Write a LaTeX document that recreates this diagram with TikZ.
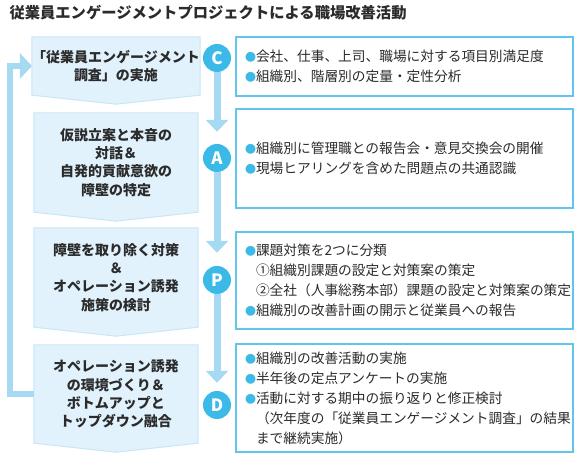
\documentclass[tikz,border=0pt]{standalone}
\usepackage{fontspec}
\setmainfont{Noto Sans CJK JP}
\usetikzlibrary{arrows.meta,backgrounds}

\definecolor{stagefill}{HTML}{E1F2FC}
\definecolor{stageline}{HTML}{C8E6F6}
\definecolor{flowblue}{HTML}{A6DAF3}
\definecolor{markblue}{HTML}{3BB9E7}
\definecolor{noteline}{HTML}{62C6EC}
\definecolor{inkgray}{HTML}{2B2B2B}

\newcommand\bul{{\fontsize{11}{11}\selectfont\color{markblue}●}}
\newcommand\ind{\phantom{\bul}}

\tikzset{
  stage/.style={minimum width=164pt,align=center,inner sep=0pt,
    font=\fontsize{14}{18.3}\selectfont\bfseries,text=inkgray},
  note/.style={draw=noteline,line width=1.2pt,fill=white,text width=319pt,
    inner xsep=9pt,inner ysep=0pt,align=left,
    font=\fontsize{13.7}{20}\selectfont,text=inkgray},
  phase/.style={circle,fill=markblue,minimum size=28pt,inner sep=0pt,
    text=white,font=\fontsize{17}{17}\selectfont\bfseries},
  flow/.style={draw=flowblue,line width=7pt,-{Triangle[width=22pt,length=12pt]}},
  backflow/.style={draw=flowblue,line width=6.5pt,-{Triangle[width=25pt,length=12pt]}},
}

\begin{document}
\begin{tikzpicture}[x=1pt,y=-1pt]
\useasboundingbox (0,0) rectangle (579,457);

\node[anchor=west,font=\fontsize{15.3}{15.3}\selectfont\bfseries,text=inkgray] (title) at (6,13)
  {従業員エンゲージメントプロジェクトによる職場改善活動};

% left column
\node[stage,minimum height=58pt](s1) at (116,66)
  {「従業員エンゲージメント\\調査」の実施};
\node[stage,minimum height=99pt](s2) at (116,162.5)
  {仮説立案と本音の\\対話＆\\自発的貢献意欲の\\障壁の特定};
\node[stage,minimum height=99pt](s3) at (116,277.5)
  {障壁を取り除く対策\\＆\\オペレーション誘発\\施策の検討};
\node[stage,minimum height=98pt](s4) at (116,394)
  {オペレーション誘発\\の環境づくり＆\\ボトムアップと\\トップダウン融合};

\begin{scope}[on background layer]
\foreach \s in {s1,s2,s3,s4}
  \filldraw[fill=stagefill,draw=stageline,line width=1pt]
    (\s.north west) -- (\s.north east) -- (\s.south east)
    -- ([yshift=-9pt]\s.south) -- (\s.south west) -- cycle;
\end{scope}

% PDCA marks
\node[phase](c) at (217,58) {C};
\node[phase](a) at (217,158) {A};
\node[phase](p) at (217,280) {P};
\node[phase](d) at (217,405) {D};

\path[flow,shorten >=12pt] (c) -- (a);
\path[flow,shorten >=13pt] (a) -- (p);
\path[flow,shorten >=8pt] (p) -- (d);

% right column
\node[note,minimum height=59pt](n1) at (404.5,66.5)
  {\bul 会社、仕事、上司、職場に対する項目別満足度\\
   \bul 組織別、階層別の定量・定性分析};
\node[note,minimum height=99pt](n2) at (404.5,158.5)
  {\bul 組織別に管理職との報告会・意見交換会の開催\\
   \bul 現場ヒアリングを含めた問題点の共通認識};
\node[note,minimum height=97pt](n3) at (404.5,280.5)
  {\bul 課題対策を2つに分類\\
   \ind ①組織別課題の設定と対策案の策定\\
   \ind ②全社（人事総務本部）課題の設定と対策案の策定\\
   \bul 組織別の改善計画の開示と従業員への報告};
\node[note,minimum height=108pt](n4) at (404.5,398)
  {\bul 組織別の改善活動の実施\\
   \bul 半年後の定点アンケートの実施\\
   \bul 活動に対する期中の振り返りと修正検討\\
   \ind （次年度の「従業員エンゲージメント調査」の結果\\
   \ind まで継続実施）};

\draw[backflow] (s4.west) -- ++(-24,0) |- (s1.west);

\end{tikzpicture}
\end{document}
